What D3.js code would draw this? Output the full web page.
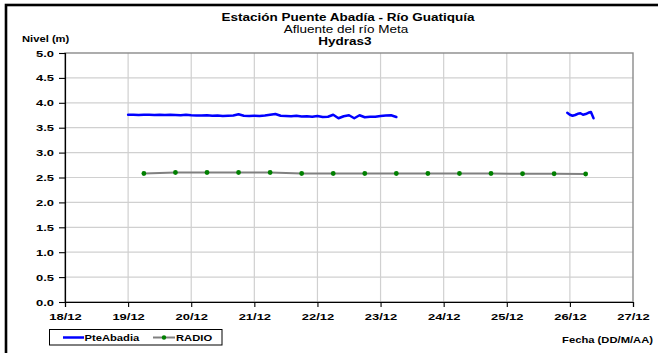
<!DOCTYPE html>
<html>
<head>
<meta charset="utf-8">
<script src="https://cdn.jsdelivr.net/npm/d3@7"></script>
<style>
  html, body { margin: 0; padding: 0; background: #fff; }
  svg { display: block; font-family: "Liberation Sans", Arial, sans-serif; }
</style>
</head>
<body>
<svg id="chart" width="658" height="353"></svg>
<script>
// Axis ticks
const dayTicks = ["2010-12-18", "2010-12-19", "2010-12-20", "2010-12-21", "2010-12-22",
                  "2010-12-23", "2010-12-24", "2010-12-25", "2010-12-26", "2010-12-27"];
const levelTicks = [0, 0.5, 1.0, 1.5, 2.0, 2.5, 3.0, 3.5, 4.0, 4.5, 5.0];

// PteAbadia sensor, first stretch: readings every 2 hours from 19/12 00:00
const pteStart1 = "2010-12-19T00:00:00Z";
const pteStepHours1 = 2;
const pteValues1 = [
  3.76, 3.76, 3.755, 3.76, 3.76, 3.755, 3.76, 3.755, 3.76, 3.755,
  3.75, 3.76, 3.75, 3.745, 3.745, 3.75, 3.74, 3.745, 3.735, 3.74,
  3.745, 3.77, 3.74, 3.735, 3.74, 3.735, 3.745, 3.76, 3.775, 3.74,
  3.735, 3.73, 3.74, 3.725, 3.73, 3.72, 3.735, 3.715, 3.72, 3.76,
  3.69, 3.73, 3.75, 3.69, 3.75, 3.71, 3.72, 3.72, 3.735, 3.745,
  3.75, 3.715
];

// PteAbadia sensor, second stretch: hourly readings from 25/12 23:00
const pteStart2 = "2010-12-25T23:00:00Z";
const pteStepHours2 = 1;
const pteValues2 = [3.80, 3.76, 3.74, 3.755, 3.78, 3.79, 3.76, 3.775, 3.80, 3.815, 3.69];

// RADIO reports, twice a day
const radioTimes = [
  "2010-12-19T06:00:00Z", "2010-12-19T18:00:00Z", "2010-12-20T06:00:00Z", "2010-12-20T18:00:00Z",
  "2010-12-21T06:00:00Z", "2010-12-21T18:00:00Z", "2010-12-22T06:00:00Z", "2010-12-22T18:00:00Z",
  "2010-12-23T06:00:00Z", "2010-12-23T18:00:00Z", "2010-12-24T06:00:00Z", "2010-12-24T18:00:00Z",
  "2010-12-25T06:00:00Z", "2010-12-25T18:00:00Z", "2010-12-26T06:00:00Z"
];
const radioValues = [2.58, 2.60, 2.60, 2.60, 2.60, 2.58, 2.58, 2.58, 2.58, 2.58, 2.58, 2.58, 2.575, 2.575, 2.57];

const HOUR = 3600 * 1000;
const series1 = pteValues1.map((v, i) => ({ t: new Date(+new Date(pteStart1) + i * pteStepHours1 * HOUR), v }));
const series2 = pteValues2.map((v, i) => ({ t: new Date(+new Date(pteStart2) + i * pteStepHours2 * HOUR), v }));
const radio = radioValues.map((v, i) => ({ t: new Date(radioTimes[i]), v }));
const dayDates = dayTicks.map(d => new Date(d + "T00:00:00Z"));

const svg = d3.select("#chart");
const plot = { left: 65, right: 633, top: 53, bottom: 302 };
const STRETCH = 1.35;

// Text in this chart is set wide; stretch glyphs horizontally
function widen(sel, k = STRETCH) {
  sel.each(function () {
    const w = this.getComputedTextLength();
    this.setAttribute("textLength", w * k);
    this.setAttribute("lengthAdjust", "spacingAndGlyphs");
  });
}

const x = d3.scaleUtc()
  .domain([dayDates[0], dayDates[dayDates.length - 1]])
  .range([plot.left, plot.right]);
const y = d3.scaleLinear()
  .domain([levelTicks[0], levelTicks[levelTicks.length - 1]])
  .range([plot.bottom, plot.top]);

// Outer frame
svg.append("rect")
  .attr("x", 6).attr("y", 5).attr("width", 700).attr("height", 400)
  .attr("fill", "#fff").attr("stroke", "#000").attr("stroke-width", 2.6);

// Gridlines
const grid = svg.append("g");
grid.selectAll("line.h").data(levelTicks.slice(1, -1)).join("line")
  .attr("x1", plot.left).attr("x2", plot.right)
  .attr("y1", d => y(d)).attr("y2", d => y(d))
  .attr("stroke", "#d0d0d0").attr("stroke-width", 1.2);
grid.selectAll("line.v").data(dayDates.slice(1, -1)).join("line")
  .attr("x1", d => x(d)).attr("x2", d => x(d))
  .attr("y1", plot.top).attr("y2", plot.bottom)
  .attr("stroke", "#d0d0d0").attr("stroke-width", 1.2);

// Plot area border
svg.append("rect")
  .attr("x", plot.left).attr("y", plot.top)
  .attr("width", plot.right - plot.left).attr("height", plot.bottom - plot.top)
  .attr("fill", "none").attr("stroke", "#8a8a8a").attr("stroke-width", 1.4);

// Axes
const yAxis = svg.append("g")
  .attr("transform", `translate(${plot.left},0)`)
  .call(d3.axisLeft(y).tickValues(levelTicks).tickFormat(d3.format(".1f")).tickSize(6).tickPadding(5));
const xAxis = svg.append("g")
  .attr("transform", `translate(0,${plot.bottom})`)
  .call(d3.axisBottom(x).tickValues(dayDates).tickFormat(d3.utcFormat("%d/%m")).tickSize(5).tickPadding(6));
[yAxis, xAxis].forEach(g => {
  g.select(".domain").attr("stroke", "#000").attr("stroke-width", 1.2);
  g.selectAll(".tick line").attr("stroke", "#000").attr("stroke-width", 1.1);
  g.selectAll(".tick text")
    .attr("fill", "#000").style("font-size", "9.6px").style("font-weight", "bold")
    .style("font-family", '"Liberation Sans", Arial, sans-serif');
});
xAxis.selectAll(".tick text").attr("dy", null).attr("y", 17.5);
widen(yAxis.selectAll(".tick text"));
widen(xAxis.selectAll(".tick text"));

// Series
const line = d3.line().x(d => x(d.t)).y(d => y(d.v));
svg.append("path").datum(radio).attr("d", line)
  .attr("fill", "none").attr("stroke", "#808080").attr("stroke-width", 2);
svg.append("g").selectAll("circle").data(radio).join("circle")
  .attr("cx", d => x(d.t)).attr("cy", d => y(d.v)).attr("r", 2.4)
  .attr("fill", "#008000");
[series1, series2].forEach(s => {
  svg.append("path").datum(s).attr("d", line)
    .attr("fill", "none").attr("stroke", "#0000ff").attr("stroke-width", 2.5)
    .attr("stroke-linejoin", "round").attr("stroke-linecap", "round");
});

// Titles
const cx = (plot.left + plot.right) / 2;
const titles = svg.append("g").attr("fill", "#000");
titles.append("text").attr("x", cx - 1).attr("y", 21).attr("text-anchor", "middle")
  .style("font-size", "10px").style("font-weight", "bold")
  .text("Estación Puente Abadía  - Río Guatiquía");
titles.append("text").attr("x", cx - 3).attr("y", 33).attr("text-anchor", "middle")
  .style("font-size", "10px")
  .text("Afluente del río Meta");
titles.append("text").attr("x", cx - 4).attr("y", 45).attr("text-anchor", "middle")
  .style("font-size", "10px").style("font-weight", "bold")
  .text("Hydras3");
titles.append("text").attr("x", 22).attr("y", 42).attr("text-anchor", "start")
  .style("font-size", "8.3px").style("font-weight", "bold")
  .text("Nivel (m)");
titles.append("text").attr("x", 653).attr("y", 343).attr("text-anchor", "end")
  .style("font-size", "8.3px").style("font-weight", "bold")
  .text("Fecha (DD/M/AA)");
widen(titles.selectAll("text"));

// Legend
const legend = svg.append("g");
legend.append("rect").attr("x", 49.5).attr("y", 329.5).attr("width", 172.5).attr("height", 15.5)
  .attr("fill", "#fff").attr("stroke", "#000").attr("stroke-width", 1);
legend.append("line").attr("x1", 63).attr("x2", 84).attr("y1", 337.5).attr("y2", 337.5)
  .attr("stroke", "#0000ff").attr("stroke-width", 2.5);
legend.append("line").attr("x1", 153).attr("x2", 175).attr("y1", 337.5).attr("y2", 337.5)
  .attr("stroke", "#808080").attr("stroke-width", 2);
legend.append("circle").attr("cx", 164).attr("cy", 337.5).attr("r", 2.2).attr("fill", "#008000");
const legendText = legend.append("g").style("font-size", "8.3px").style("font-weight", "bold");
legendText.append("text").attr("x", 84.5).attr("y", 340.5).text("PteAbadia");
legendText.append("text").attr("x", 176).attr("y", 340.5).text("RADIO");
widen(legendText.selectAll("text"));
</script>
</body>
</html>
